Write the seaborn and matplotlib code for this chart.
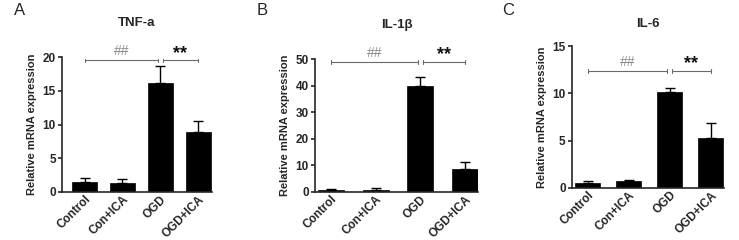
import numpy as np
import pandas as pd
import matplotlib
matplotlib.use("Agg")
import matplotlib.pyplot as plt
import seaborn as sns

sns.set_theme(style="ticks")
plt.rcParams['font.family'] = ['Liberation Sans', 'DejaVu Sans']

groups = ["Control", "Con+ICA", "OGD", "OGD+ICA"]
tnf_mean = [1.5, 1.35, 16.2, 8.9]
tnf_sd = [0.55, 0.6, 2.5, 1.6]
il1_mean = [0.6, 0.6, 40.0, 8.8]
il1_sd = [0.4, 0.8, 3.2, 2.4]
il6_mean = [0.55, 0.72, 10.1, 5.25]
il6_sd = [0.15, 0.12, 0.45, 1.65]

titles = ["TNF-a", "IL-1β", "IL-6"]
letters = ["A", "B", "C"]
ymax = [20, 50, 15]
ysteps = [5, 10, 5]
sig_heights = [19.5, 48.9, 12.35]

fig = plt.figure(figsize=(7.39, 2.40), dpi=100)
positions = [
    [0.0839, 0.200, 0.203, 0.5625],
    [0.4263, 0.200, 0.221, 0.554],
    [0.7740, 0.217, 0.206, 0.591],
]
xlims = [(-0.6, 3.37), (-0.36, 3.3), (-0.38, 3.33)]
widths = [0.66, 0.58, 0.61]
letter_x = [0.019, 0.347, 0.679]

datasets = [(tnf_mean, tnf_sd), (il1_mean, il1_sd), (il6_mean, il6_sd)]

for i, ((m, s), pos) in enumerate(zip(datasets, positions)):
    ax = fig.add_axes(pos)
    df = pd.DataFrame({"group": groups, "value": m})
    sns.barplot(data=df, x="group", y="value", color="black", width=widths[i],
                errorbar=None, ax=ax, edgecolor="black", linewidth=0.5)
    x = np.arange(len(groups))
    ax.errorbar(x, m, yerr=[np.zeros(len(m)), s], fmt="none", ecolor="black",
                elinewidth=1.0, capsize=3.5, capthick=1.0)
    ax.set_xlim(*xlims[i])
    ax.set_ylim(0, ymax[i])
    ax.set_yticks(np.arange(0, ymax[i] + 0.01, ysteps[i]))
    sns.despine(ax=ax)
    ax.spines["left"].set_linewidth(1.2)
    ax.spines["bottom"].set_linewidth(1.2)
    ax.tick_params(axis="y", length=3, width=1.2, labelsize=8.5, pad=1.5)
    ax.tick_params(axis="x", length=0, labelsize=8.5, pad=1)
    for lab in ax.get_yticklabels():
        lab.set_fontweight("bold")
    ax.set_xticks(x)
    ax.set_xticklabels(groups, rotation=45, ha="right", rotation_mode="anchor",
                       fontweight="bold", fontsize=8.5)
    ax.set_xlabel("")
    ax.set_ylabel("Relative mRNA expression", fontsize=8, fontweight="bold", labelpad=4)
    ax.set_title(titles[i], fontsize=9.5, fontweight="bold", pad=22 if i < 2 else 14)

    # significance brackets
    h = sig_heights[i]
    cap = ymax[i] * 0.012
    gray = "#6a6a6a"
    x0, x1 = 0, 2 - 0.06
    ax.plot([x0, x1], [h, h], color=gray, lw=0.8, clip_on=False)
    for xx in (x0, x1):
        ax.plot([xx, xx], [h - cap, h + cap], color=gray, lw=0.8, clip_on=False)
    ax.text((x0 + x1) / 2, h + ymax[i] * 0.015, "##", color="#8a8a8a", ha="center",
            va="bottom", fontsize=10)
    x2, x3 = 2 + 0.06, 3
    ax.plot([x2, x3], [h, h], color=gray, lw=0.8, clip_on=False)
    for xx in (x2, x3):
        ax.plot([xx, xx], [h - cap, h + cap], color=gray, lw=0.8, clip_on=False)
    ax.text((x2 + x3) / 2, h - ymax[i] * 0.01, "**", color="#111111", ha="center",
            va="bottom", fontsize=13, fontweight="bold")

    fig.text(letter_x[i], 0.955, letters[i], fontsize=12, ha="left", va="center")

fig.savefig("out.png", dpi=100)
